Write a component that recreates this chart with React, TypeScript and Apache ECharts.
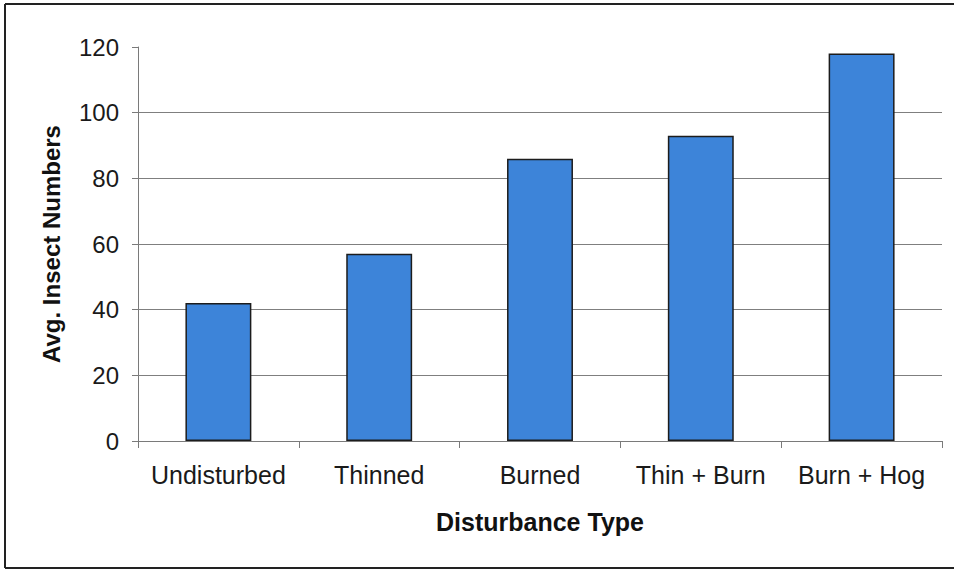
import React, { useEffect, useRef } from "react";
import * as echarts from "echarts";

// Average insect counts per forest disturbance treatment
const categories = ["Undisturbed", "Thinned", "Burned", "Thin + Burn", "Burn + Hog"];
const insectNumbers = [42, 57, 86, 93, 118];
const yTicks = { min: 0, max: 120, interval: 20 };
// Horizontal guide lines (none at the top of the value range)
const gridValues = [20, 40, 60, 80, 100];

const FONT = "'Liberation Sans', Arial, sans-serif";

export default function App() {
  const ref = useRef<HTMLDivElement>(null);

  useEffect(() => {
    document.body.style.margin = "0";
    if (!ref.current) return;
    const chart = echarts.init(ref.current, undefined, { renderer: "svg" });
    const frame = { stroke: "#222222", lineWidth: 2 };
    chart.setOption({
      animation: false,
      backgroundColor: "#ffffff",
      grid: { left: 138, right: 12, top: 47, bottom: 129, containLabel: false },
      graphic: [
        { type: "line", shape: { x1: 5, y1: 4, x2: 954, y2: 4 }, style: frame, silent: true },
        { type: "line", shape: { x1: 5, y1: 4, x2: 5, y2: 568 }, style: frame, silent: true },
        { type: "line", shape: { x1: 5, y1: 568, x2: 954, y2: 568 }, style: frame, silent: true },
      ],
      xAxis: {
        type: "category",
        data: categories,
        name: "Disturbance Type",
        nameLocation: "middle",
        nameGap: 68,
        nameTextStyle: { fontFamily: FONT, fontSize: 25, fontWeight: "bold", color: "#111111" },
        axisLine: { show: true, lineStyle: { color: "#7a7a7a", width: 1 } },
        axisTick: { show: true, length: 7, lineStyle: { color: "#7a7a7a" } },
        axisLabel: { interval: 0, margin: 21, fontFamily: FONT, fontSize: 25, color: "#1a1a1a" },
      },
      yAxis: {
        type: "value",
        min: yTicks.min,
        max: yTicks.max,
        interval: yTicks.interval,
        name: "Avg. Insect Numbers",
        nameLocation: "middle",
        nameGap: 75,
        nameTextStyle: { fontFamily: FONT, fontSize: 24, fontWeight: "bold", color: "#111111" },
        axisLine: { show: true, lineStyle: { color: "#7a7a7a", width: 1 } },
        axisTick: { show: true, length: 6, lineStyle: { color: "#7a7a7a" } },
        axisLabel: { margin: 19, fontFamily: FONT, fontSize: 24, color: "#1a1a1a" },
        splitLine: { show: false },
      },
      series: [
        {
          type: "bar",
          data: insectNumbers,
          barWidth: "41%",
          itemStyle: { color: "#3d84d9", borderColor: "#1c1c1c", borderWidth: 1.5 },
          z: 3,
          markLine: {
            silent: true,
            symbol: "none",
            label: { show: false },
            lineStyle: { color: "#7f7f7f", width: 1, type: "solid" },
            z: 1,
            data: gridValues.map((v) => ({ yAxis: v })),
          },
        },
      ],
    });
    return () => chart.dispose();
  }, []);

  return <div ref={ref} style={{ width: 954, height: 570 }} />;
}
